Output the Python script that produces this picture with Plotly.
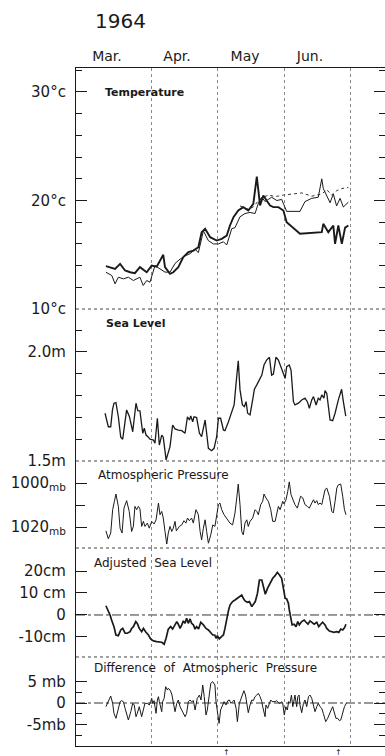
import plotly.graph_objects as go

# ---------------- data (x = days counted from 1 March 1964) ----------------
MONTH_STARTS = [31, 61, 92, 122]
MONTH_LABEL_DAYS = [10.5, 42.6, 73.8, 103.6]
MONTH_LABELS = ["Mar.", "Apr.", "May", "Jun."]
EVENT_DAYS = [65.5, 116.5]

# Temperature (deg C), three stations
TEMP_A_DAYS = [10.0, 11.9, 14.2, 16.5, 18.8, 21.1, 23.3, 25.6, 28.7, 31.0, 33.3, 36.3, 37.1, 39.4, 40.9,
               43.2, 45.5, 47.8, 50.1, 52.4, 53.9, 55.5, 57.8, 60.8, 63.1, 65.4, 66.9, 68.5, 70.7, 73.0,
               75.3, 77.6, 79.2, 80.7, 82.2, 83.7, 85.3, 86.8, 89.1, 91.4, 92.9, 99.0, 109.0, 109.7,
               112.0, 114.3, 115.1, 116.6, 118.2, 119.7, 121.2]
TEMP_A = [13.95, 13.86, 13.70, 14.16, 13.55, 13.39, 13.30, 13.86, 13.39, 14.00, 13.90, 15.00, 13.86, 13.24,
          13.39, 13.86, 14.78, 15.24, 15.39, 15.70, 17.08, 17.39, 16.62, 16.31, 16.47, 16.77, 17.70, 18.46,
          19.08, 19.39, 19.08, 19.69, 22.21, 19.54, 20.46, 20.00, 19.54, 19.39, 19.39, 19.08, 18.00, 16.93,
          17.08, 17.85, 17.08, 17.70, 16.01, 17.70, 16.01, 17.50, 17.70]

TEMP_B_DAYS = [10.0, 12.7, 14.2, 15.7, 18.0, 20.3, 22.6, 25.6, 27.1, 28.7, 30.2, 32.5, 34.8, 37.1, 39.4,
               41.7, 44.0, 46.3, 48.6, 50.9, 52.4, 54.7, 57.0, 59.3, 61.6, 63.9, 65.4, 67.7, 69.2, 71.5,
               73.8, 76.1, 78.4, 80.0, 81.5, 83.0, 84.5, 86.0, 88.4, 90.6, 92.9, 97.5, 99.0, 101.3, 104.4,
               107.4, 109.0, 109.7, 111.3, 112.8, 114.3, 115.8, 117.4, 118.9, 121.2]
TEMP_B = [13.39, 13.09, 12.32, 12.93, 12.78, 12.93, 12.63, 12.93, 12.17, 12.63, 12.47, 14.00, 13.70, 13.40,
          13.40, 14.20, 14.60, 14.90, 15.10, 15.50, 15.20, 17.20, 16.30, 16.00, 16.00, 16.20, 15.90, 17.40,
          17.50, 18.50, 18.80, 18.90, 18.80, 19.80, 20.30, 19.90, 20.10, 20.30, 20.00, 20.10, 19.00, 19.00,
          19.00, 19.90, 20.20, 20.30, 22.00, 21.10, 20.40, 19.80, 20.60, 19.50, 20.20, 19.40, 19.85]

TEMP_C_DAYS = [71.5, 73.0, 75.3, 77.6, 80.0, 82.2, 84.5, 86.8, 89.1, 91.4, 95.0, 99.8, 104.4, 109.0,
               111.3, 113.5, 115.8, 118.2, 121.2]
TEMP_C = [19.5, 19.4, 19.2, 19.4, 20.0, 20.3, 20.5, 20.4, 20.4, 20.5, 20.6, 20.7, 20.4, 20.6, 21.0, 20.5,
          20.9, 21.1, 21.2]

# Sea level (m)
SEA_DAYS = [9.6, 11.1, 12.2, 13.0, 13.7, 14.6, 15.7, 16.8, 17.7, 19.5, 20.8, 22.3, 23.8, 24.6, 25.6, 26.9,
            27.6, 28.4, 29.5, 30.2, 31.8, 32.5, 33.6, 34.5, 35.6, 36.3, 37.6, 38.6, 39.4, 40.6, 41.7, 43.2,
            44.8, 46.3, 47.4, 48.3, 48.9, 49.8, 50.4, 51.6, 52.9, 53.9, 55.5, 57.0, 58.5, 59.6, 60.8, 61.6,
            62.6, 63.9, 64.6, 66.2, 67.7, 68.8, 69.7, 70.7, 71.5, 72.6, 73.5, 74.3, 75.0, 76.1, 77.3, 78.1,
            79.2, 80.4, 81.5, 82.5, 83.7, 85.0, 86.0, 86.8, 88.0, 89.1, 90.6, 92.2, 92.9, 94.1, 94.9, 96.0,
            96.7, 98.3, 99.8, 101.3, 102.4, 103.3, 104.4, 105.2, 106.4, 107.4, 108.2, 109.0, 110.0, 110.5,
            111.3, 112.8, 114.0, 115.1, 116.6, 118.1, 118.9, 120.0]
SEA_LEVEL = [1.719, 1.657, 1.657, 1.734, 1.765, 1.768, 1.703, 1.609, 1.600, 1.734, 1.703, 1.634, 1.765,
             1.731, 1.730, 1.627, 1.650, 1.619, 1.609, 1.600, 1.596, 1.581, 1.696, 1.573, 1.619, 1.609,
             1.505, 1.543, 1.566, 1.665, 1.647, 1.642, 1.639, 1.627, 1.703, 1.688, 1.706, 1.680, 1.703,
             1.699, 1.627, 1.612, 1.688, 1.558, 1.547, 1.558, 1.612, 1.696, 1.696, 1.642, 1.639, 1.680,
             1.726, 1.757, 1.856, 1.960, 1.826, 1.757, 1.749, 1.772, 1.719, 1.711, 1.780, 1.829, 1.849,
             1.872, 1.894, 1.940, 1.963, 1.976, 1.894, 1.899, 1.976, 1.963, 1.925, 1.879, 1.933, 1.940,
             1.917, 1.772, 1.757, 1.765, 1.780, 1.788, 1.772, 1.742, 1.780, 1.795, 1.757, 1.788, 1.780,
             1.803, 1.788, 1.823, 1.810, 1.688, 1.685, 1.719, 1.780, 1.829, 1.772, 1.706]

# Atmospheric pressure (mb)
PRES_DAYS = [10.0, 11.1, 12.2, 13.1, 13.9, 14.6, 15.7, 16.5, 17.4, 18.3, 19.5, 20.7, 21.8, 22.6, 23.3, 24.1,
             24.9, 25.6, 26.4, 27.2, 27.9, 29.0, 29.9, 31.0, 32.1, 33.0, 34.1, 34.8, 35.6, 36.3, 37.1, 37.9,
             38.6, 39.4, 40.2, 40.9, 41.7, 42.3, 43.7, 44.8, 45.8, 46.7, 47.4, 48.3, 49.3, 50.1, 51.3, 52.4,
             53.2, 53.9, 54.7, 55.5, 56.2, 57.0, 58.1, 59.0, 60.0, 60.8, 61.6, 62.3, 63.1, 64.2, 65.4, 66.9,
             68.1, 69.2, 70.0, 70.7, 71.5, 72.3, 73.0, 73.8, 74.6, 75.3, 76.1, 77.3, 78.4, 79.2, 79.9, 81.0,
             81.9, 82.5, 83.4, 84.5, 85.6, 86.5, 87.6, 88.3, 89.1, 89.9, 90.6, 91.1, 91.7, 92.6, 93.4, 94.1,
             94.9, 95.7, 96.7, 97.8, 98.7, 99.3, 100.3, 101.3, 102.4, 103.3, 104.4, 105.2, 105.9, 106.7,
             107.4, 108.2, 109.0, 109.7, 110.5, 111.3, 112.5, 113.6, 114.3, 115.1, 115.9, 116.6, 117.7,
             118.6, 119.4, 120.1]
PRESSURE = [1021.7, 1025.3, 1022.7, 1012.1, 1008.3, 1005.0, 1010.6, 1020.5, 1022.7, 1011.4,
            1008.0, 1012.9, 1022.0, 1019.7, 1010.6, 1012.1, 1010.6, 1011.7, 1019.7, 1017.4,
            1019.7, 1018.2, 1020.5, 1017.4, 1018.6, 1016.7, 1009.1, 1014.4, 1012.9, 1015.9,
            1022.0, 1027.7, 1022.7, 1019.7, 1022.0, 1020.5, 1017.4, 1021.7, 1019.7, 1019.0,
            1017.1, 1018.2, 1015.9, 1017.1, 1015.9, 1018.2, 1012.1, 1014.4, 1022.0, 1025.8,
            1020.5, 1016.7, 1022.0, 1027.3, 1023.5, 1019.0, 1019.7, 1014.4, 1009.8, 1009.1,
            1012.1, 1014.4, 1015.9, 1018.2, 1019.0, 1013.6, 1006.8, 1000.5, 1009.8, 1022.0,
            1023.5, 1018.2, 1016.7, 1019.7, 1017.4, 1015.9, 1012.1, 1012.9, 1014.4, 1009.8,
            1008.3, 1005.0, 1006.8, 1008.3, 1012.1, 1017.4, 1017.4, 1013.6, 1010.6, 1012.1,
            1009.8, 1008.3, 1009.5, 1007.6, 1003.8, 999.5, 1005.3, 1007.6, 1009.8, 1011.4,
            1008.3, 1006.0, 1006.8, 1009.8, 1010.6, 1011.4, 1009.1, 1007.6, 1009.1, 1008.0,
            1009.8, 1009.1, 1009.8, 1006.0, 1003.0, 1002.3, 1006.0, 1012.9, 1013.6, 1008.3,
            1002.3, 1000.8, 1000.5, 1006.0, 1012.1, 1014.4]

# Adjusted sea level (cm)
ADJ_DAYS = [10.0, 11.1, 11.9, 12.6, 13.7, 14.6, 15.7, 16.8, 17.7, 18.8, 19.8, 21.1, 21.8, 22.6, 23.7, 24.4,
            25.3, 26.4, 27.2, 28.2, 29.5, 30.5, 31.8, 33.3, 34.5, 35.6, 36.7, 37.6, 38.6, 39.7, 40.6, 41.7,
            42.5, 43.2, 44.0, 44.8, 45.5, 46.3, 47.0, 47.8, 48.6, 49.3, 50.1, 50.9, 51.6, 52.5, 53.5, 54.7,
            55.9, 57.0, 58.1, 59.0, 59.9, 60.5, 61.1, 62.0, 63.1, 63.9, 64.6, 65.4, 66.2, 66.9, 68.1, 69.2,
            70.3, 71.5, 72.3, 73.0, 73.8, 74.9, 75.8, 76.9, 77.6, 78.5, 79.5, 80.4, 81.5, 82.2, 83.1, 84.1,
            85.3, 86.5, 87.6, 88.6, 89.6, 90.6, 91.4, 92.2, 92.9, 93.7, 94.1, 94.7, 95.4, 96.3, 97.2, 98.0,
            98.7, 99.8, 100.9, 101.8, 102.7, 103.6, 104.5, 105.5, 106.7, 107.6, 108.5, 109.4, 110.5, 111.3,
            112.5, 113.6, 114.6, 115.9, 116.8, 117.7, 118.6, 119.4, 120.1]
ADJ_SEA = [4.2, 1.8, 0.0, -2.3, -5.3, -9.1, -9.4, -6.8, -6.1, -8.3, -8.3, -7.6, -6.1, -5.3, -3.0, -3.8,
           -6.1, -7.6, -6.1, -7.6, -9.1, -10.9, -11.8, -12.1, -12.4, -12.4, -13.3, -10.6, -6.4, -5.3,
           -6.4, -4.2, -3.0, -4.2, -6.1, -4.5, -2.7, -3.8, -1.5, -3.8, -1.8, -3.8, -4.5, -6.4, -5.3, -6.4,
           -3.3, -4.5, -6.1, -6.8, -8.3, -9.1, -9.1, -10.6, -9.4, -10.9, -9.7, -9.1, -6.1, -1.5, 2.0, 4.5,
           6.1, 6.8, 7.6, 8.3, 9.1, 7.6, 6.4, 5.8, 6.1, 3.8, 4.8, 6.1, 9.8, 15.9, 15.9, 12.9, 9.4, 12.1,
           14.4, 16.7, 17.9, 19.4, 18.2, 16.7, 12.1, 7.6, 7.3, 5.3, 2.3, -0.8, -4.5, -4.2, -5.3, -3.0,
           -4.5, -3.0, -2.3, -3.3, -4.2, -2.7, -3.3, -4.2, -3.3, -5.3, -4.2, -3.3, -4.5, -6.1, -7.3, -7.6,
           -7.9, -7.6, -7.9, -6.4, -6.8, -5.8, -4.2]

# Difference of atmospheric pressure (mb)
DIFF_DAYS = [10.0, 11.1, 12.2, 13.1, 13.7, 14.6, 15.7, 16.5, 17.2, 18.0, 18.8, 19.5, 20.3, 21.4, 22.3, 23.0,
             23.8, 24.4, 25.3, 26.4, 27.2, 27.9, 29.0, 29.9, 30.5, 31.0, 31.5, 32.1, 32.5, 33.0, 33.6, 34.1,
             34.5, 35.1, 35.6, 36.0, 36.7, 37.4, 38.2, 38.6, 39.4, 40.2, 40.9, 41.7, 42.5, 43.2, 44.0, 44.8,
             45.5, 46.3, 47.0, 47.8, 48.6, 49.3, 50.1, 50.9, 51.9, 52.9, 53.6, 54.4, 55.1, 55.9, 56.5, 57.4,
             58.1, 59.0, 60.0, 60.5, 61.1, 61.9, 62.6, 63.6, 64.2, 65.1, 65.9, 66.6, 67.4, 68.1, 68.8, 69.7,
             70.3, 71.2, 72.0, 72.7, 73.3, 74.0, 74.6, 75.3, 76.1, 76.9, 77.6, 78.4, 79.2, 79.9, 80.7, 81.5,
             81.9, 82.5, 83.0, 83.4, 84.2, 85.0, 85.6, 86.2, 86.8, 87.6, 88.3, 89.1, 89.9, 90.6, 91.1, 91.4,
             91.8, 92.5, 93.2, 93.8, 94.4, 95.1, 95.7, 96.3, 96.7, 97.5, 98.0, 98.6, 99.0, 99.8, 100.6, 101.3,
             102.1, 102.9, 103.6, 104.4, 105.2, 105.9, 106.7, 107.4, 108.2, 109.0, 109.7, 110.8, 111.7,
             112.5, 113.3, 114.0, 114.8, 115.5, 116.3, 117.1, 117.7, 118.6, 119.4, 120.4]
DIFF_PRES = [-0.85, 0.31, 1.61, -0.08, -2.38, -3.53, -1.61, 0.31, 0.54, 0.31, -1.23, -2.76, -3.92, -2.0,
             -0.08, -0.46, -3.15, -2.38, -0.85, -3.15, -1.23, -0.08, -0.08, -0.46, 0.31, 1.08, -0.08, 0.54,
             -0.85, -2.38, 0.69, 1.46, 0.31, -1.23, -2.0, 0.31, 1.08, 3.76, 3.0, 3.38, 3.0, 2.07, -0.08,
             -2.0, -0.08, 0.69, -0.85, -1.61, -2.23, -3.15, -2.38, 0.31, 0.69, 0.31, 0.54, -1.61, 1.08, 1.84,
             0.69, 4.15, 1.46, -2.76, -1.61, 1.84, 4.53, 4.92, 4.15, 0.31, -2.38, -4.69, -1.61, -0.08, 0.31,
             -0.46, 0.54, 0.69, -0.08, 0.31, 0.69, -1.23, -4.3, -0.08, 1.08, 2.23, 2.84, 1.84, -0.08, -2.23,
             -0.46, 0.69, 0.54, 1.46, 1.84, 2.23, 1.46, 0.31, -0.85, -2.0, -3.15, -0.46, -1.23, -0.08, 0.69,
             0.31, 0.31, 0.31, 0.54, 0.08, -0.08, 0.31, -0.08, -1.0, -2.76, -0.85, -1.61, 0.31, -0.08, 1.84,
             -0.85, 0.69, 1.84, -0.85, 1.46, 1.84, -0.46, -2.23, -0.08, 0.69, -0.85, 1.46, 1.84, 1.08,
             -0.85, -2.0, -0.85, -0.08, -0.85, -1.23, -2.38, -4.3, -3.53, -2.38, -1.61, -0.85, -2.38, -3.53,
             -3.53, -4.07, -3.92, -2.0, -0.85, 0.08]

# ---------------- figure ----------------
FONT = "DejaVu Sans"
INK = "#1a1a1a"

fig = go.Figure()


def add_line(days, vals, yaxis, width, dash="solid", color=INK, xaxis="x"):
    fig.add_trace(go.Scatter(x=days, y=vals, mode="lines", xaxis=xaxis, yaxis=yaxis,
                             line=dict(color=color, width=width, dash=dash),
                             hoverinfo="skip", showlegend=False))


add_line(TEMP_C_DAYS, TEMP_C, "y", 1.0, dash="dot", color="#333")
add_line(TEMP_B_DAYS, TEMP_B, "y", 1.0)
add_line(TEMP_A_DAYS, TEMP_A, "y", 1.9)
add_line(SEA_DAYS, SEA_LEVEL, "y2", 1.3)
add_line(PRES_DAYS, PRESSURE, "y3", 1.0)
add_line(ADJ_DAYS, ADJ_SEA, "y4", 1.7)
add_line(DIFF_DAYS, DIFF_PRES, "y5", 1.0)
# empty traces so that the top month axis and the right-hand tick axes are drawn
add_line([], [], "y", 1, xaxis="x2")
for ya in ["y6", "y7", "y8", "y9", "y10"]:
    add_line([], [], ya, 1)

X_RANGE = [-3.72, 138.0]

# panel domains (bottom, top) in paper fraction
D_T = [0.6445, 1.0]
D_S = [0.4204, 0.6445]
D_P = [0.2920, 0.4204]
D_A = [0.1313, 0.2920]
D_D = [0.0, 0.1313]


def yaxis(domain, rng, tickvals, ticktext, minor_vals, minor_len=6, right=False, overlay=None):
    ax = dict(domain=domain, range=rng, anchor="x", tickmode="array", tickvals=tickvals,
              ticktext=ticktext, ticks="inside", ticklen=11, tickwidth=1, tickcolor=INK,
              showgrid=False, zeroline=False, showline=not right, linecolor=INK, linewidth=1.2,
              tickfont=dict(family=FONT, size=15, color=INK), fixedrange=True,
              ticklabelstandoff=6,
              minor=dict(tickmode="array", tickvals=minor_vals, ticks="inside", ticklen=minor_len,
                         tickwidth=1, tickcolor=INK, showgrid=False))
    if right:
        ax.update(side="right", overlaying=overlay, showticklabels=False)
    return ax


T_TICKS = [10, 20, 30]
T_TEXT = ["10°c", "20°c", "30°c"]
T_MINOR = [12, 14, 16, 18, 22, 24, 26, 28, 32]
S_TICKS = [1.5, 2.0]
S_TEXT = ["1.5m", "2.0m"]
S_MINOR = [1.6, 1.7, 1.8, 1.9, 2.1]
P_TICKS = [1000, 1020]
P_TEXT = ["1000<sub>mb</sub>", "1020<sub>mb</sub>"]
P_MINOR = [1010]
A_TICKS = [20, 10, 0, -10]
A_TEXT = ["20cm", "10 cm", "0", "-10cm"]
A_MINOR = []
D_TICKS = [5, 0, -5]
D_TEXT = ["5 mb", "0", "-5mb"]
D_MINOR = [2.5, -2.5, -7.5]

T_RANGE = [10, 32.21]
S_RANGE = [1.5, 2.197]
P_RANGE = [1029.5, 990]
A_RANGE = [-19.1, 30.45]
D_RANGE = [-9.9, 10.6]

layout_axes = dict(
    yaxis=yaxis(D_T, T_RANGE, T_TICKS, T_TEXT, T_MINOR),
    yaxis2=yaxis(D_S, S_RANGE, S_TICKS, S_TEXT, S_MINOR),
    yaxis3=yaxis(D_P, P_RANGE, P_TICKS, P_TEXT, P_MINOR, minor_len=9),
    yaxis4=yaxis(D_A, A_RANGE, A_TICKS, A_TEXT, A_MINOR),
    yaxis5=yaxis(D_D, D_RANGE, D_TICKS, D_TEXT, D_MINOR),
    yaxis6=yaxis(D_T, T_RANGE, T_TICKS, T_TEXT, T_MINOR, right=True, overlay="y"),
    yaxis7=yaxis(D_S, S_RANGE, S_TICKS, S_TEXT, S_MINOR, right=True, overlay="y2"),
    yaxis8=yaxis(D_P, P_RANGE, P_TICKS, P_TEXT, P_MINOR, minor_len=9, right=True, overlay="y3"),
    yaxis9=yaxis(D_A, A_RANGE, A_TICKS, A_TEXT, A_MINOR, right=True, overlay="y4"),
    yaxis10=yaxis(D_D, D_RANGE, D_TICKS, D_TEXT, D_MINOR, right=True, overlay="y5"),
)

fig.update_layout(
    width=385, height=756,
    margin=dict(l=76, r=0, t=68, b=10),
    paper_bgcolor="white", plot_bgcolor="white",
    font=dict(family=FONT, color=INK),
    showlegend=False,
    xaxis=dict(domain=[0, 1], range=X_RANGE, anchor="y5", tickmode="array", tickvals=MONTH_STARTS,
               showticklabels=False, ticks="", showgrid=True, gridcolor="#8a8a8a", griddash="dot",
               gridwidth=1, zeroline=False, showline=True, linecolor=INK, linewidth=1.2,
               fixedrange=True),
    xaxis2=dict(overlaying="x", side="top", anchor="y", range=X_RANGE, tickmode="array",
                tickvals=MONTH_LABEL_DAYS, ticktext=MONTH_LABELS, ticks="", showgrid=False,
                zeroline=False, showline=True, linecolor=INK, linewidth=1.2,
                tickfont=dict(family=FONT, size=14, color=INK), fixedrange=True),
    **layout_axes,
)

# panel separators (dotted) and zero lines (dash-dot)
for yref in ["y domain", "y2 domain", "y3 domain", "y4 domain"]:
    fig.add_shape(type="line", xref="paper", x0=0, x1=1, yref=yref, y0=0, y1=0,
                  line=dict(color="#444", width=1, dash="dot"), layer="below")
for yref in ["y4", "y5"]:
    fig.add_shape(type="line", xref="paper", x0=0, x1=1, yref=yref, y0=0, y1=0,
                  line=dict(color="#333", width=1, dash="dashdot"), layer="below")

# texts
fig.add_annotation(text="1964", xref="paper", yref="paper", x=0.1456, y=1.069, showarrow=False,
                   xanchor="center", yanchor="middle", font=dict(family=FONT, size=20, color=INK))
panel_labels = [
    ("<b>Temperature</b>", "y domain", 0.0874, 0.9, 11),
    ("<b>Sea Level</b>", "y2 domain", 0.0906, 0.905, 11),
    ("Atmospheric Pressure", "y3 domain", 0.0647, 0.84, 12),
    ("Adjusted  Sea Level", "y4 domain", 0.0518, 0.86, 12),
    ("Difference  of  Atmospheric  Pressure", "y5 domain", 0.0518, 0.88, 12),
]
for text, yref, x, y, size in panel_labels:
    fig.add_annotation(text=text, xref="paper", yref=yref, x=x, y=y, showarrow=False,
                       xanchor="left", yanchor="middle", font=dict(family=FONT, size=size, color=INK))
for d in EVENT_DAYS:
    fig.add_annotation(text="↑", xref="x", yref="paper", x=d, y=0, yanchor="top", yshift=0,
                       showarrow=False, font=dict(family=FONT, size=8, color=INK))

fig.write_html("out.html")
